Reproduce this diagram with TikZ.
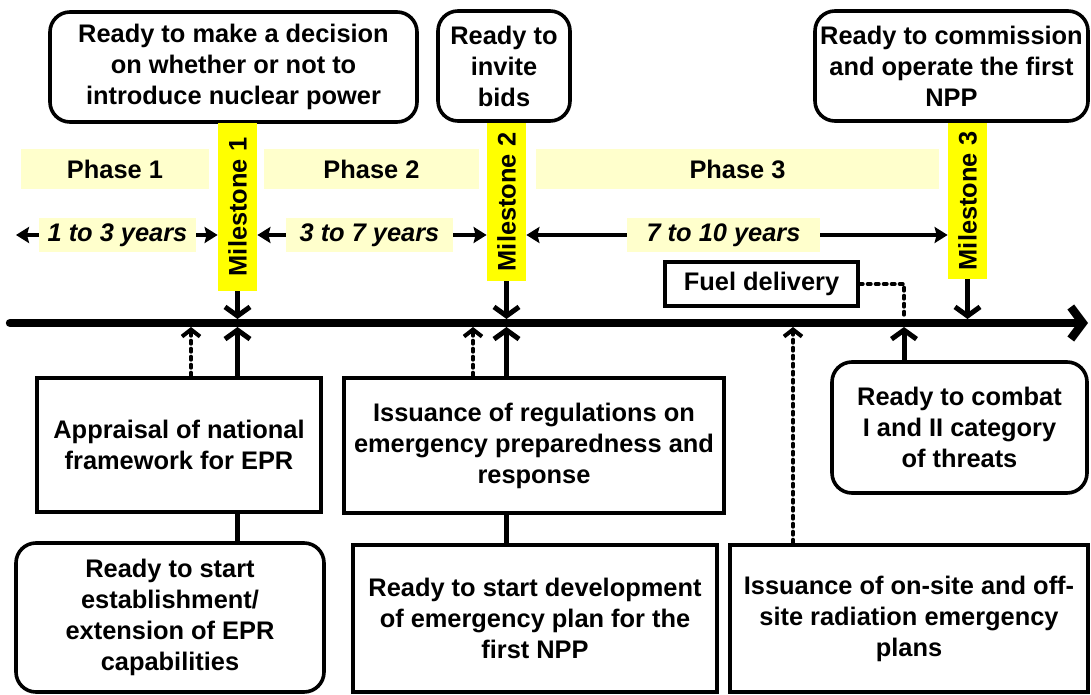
\documentclass[tikz,border=0pt]{standalone}
\usepackage{fontspec}
\setmainfont{Liberation Sans}
\usepackage{tikz}
\usetikzlibrary{arrows.meta}
\definecolor{phaseyellow}{RGB}{255, 255, 204}
\definecolor{mileyellow}{RGB}{255, 255, 0}

\begin{document}
\begin{tikzpicture}[x=0.5pt, y=-0.5pt,
  every node/.style={font=\fontsize{12.7}{15.5}\selectfont\bfseries, align=center, inner sep=0pt},
  goalbox/.style={draw, line width=1.8pt, rounded corners=10pt},
  taskbox/.style={draw, line width=2.3pt},
  phaseband/.style={fill=phaseyellow, minimum height=20pt},
  spanlabel/.style={fill=phaseyellow, font=\fontsize{12.7}{15.5}\selectfont\bfseries\itshape, minimum height=16.5pt},
  milebar/.style={fill=mileyellow, rotate=90, minimum height=19.5pt},
  spanarrow/.style={line width=1.7pt, -{Stealth[length=6.5pt,width=8pt,inset=1pt]}},
  hitarrow/.style={line width=2.5pt, shorten >=2pt, -{Straight Barb[length=4.5pt,width=12.5pt]}},
  linkline/.style={line width=2pt, line cap=round, dash pattern=on 1.5pt off 2.5pt},
  linkarrow/.style={linkline, shorten >=2pt, -{Straight Barb[length=3.5pt,width=9pt]}}]
\useasboundingbox (0,0) rectangle (1091,695);

\node[goalbox, minimum width=183.5pt, minimum height=55pt] (t1) at (233.5,67) {Ready to make a decision\\on whether or not to\\introduce nuclear power};
\node[goalbox, minimum width=66pt, minimum height=55pt] (t2) at (504,66) {Ready to\\invite\\bids};
\node[goalbox, minimum width=136.5pt, minimum height=55pt] (t3) at (951.5,66) {Ready to commission\\and operate the first\\NPP};

\node[phaseband, minimum width=94pt] (ph1) at (115,169) {Phase 1};
\node[phaseband, minimum width=107.5pt] (ph2) at (371.5,169) {Phase 2};
\node[phaseband, minimum width=201.5pt] (ph3) at (737.5,169) {Phase 3};

\node[milebar, minimum width=84pt] (m1) at (237.5,207) {Milestone 1};
\node[milebar, minimum width=79pt] (m2) at (506.5,202) {Milestone 2};
\node[milebar, minimum width=78pt] (m3) at (967.5,201) {Milestone 3};

\node[spanlabel, minimum width=78.5pt] (y1) at (117.5,235) {1 to 3 years};
\node[spanlabel, minimum width=83.5pt] (y2) at (369.5,235) {3 to 7 years};
\node[spanlabel, minimum width=96.5pt] (y3) at (723.5,235) {7 to 10 years};
\coordinate (span-start) at (16,235);
\draw[spanarrow] (y1.west) -- (span-start);
\draw[spanarrow] (y1.east) -- (m1.north |- y1);
\draw[spanarrow] (y2.west) -- (m1.south |- y2);
\draw[spanarrow] (y2.east) -- (m2.north |- y2);
\draw[spanarrow] (y3.west) -- (m2.south |- y3);
\draw[spanarrow] (y3.east) -- (m3.north |- y3);

\node[draw, line width=1.7pt, minimum width=96.5pt, minimum height=22pt] (fuel) at (761.5,284) {Fuel delivery};

\coordinate (tl-start) at (10,323);
\coordinate (tl-end) at (1088,323);
\coordinate (ms1) at (237.5,323);
\coordinate (ms2) at (506.5,323);
\coordinate (ms3) at (967.5,323);
\coordinate (dt1) at (191,323);
\coordinate (dt2) at (473,323);
\coordinate (dt3) at (793,323);
\coordinate (fl) at (904,323);
\draw[line width=4.2pt, line cap=round, -{Straight Barb[length=6pt,width=16pt]}] (tl-start) -- (tl-end);

\node[taskbox, minimum width=142pt, minimum height=67pt] (b1) at (179,445) {Appraisal of national\\framework for EPR};
\node[taskbox, minimum width=190pt, minimum height=67.5pt] (b2) at (534,445.5) {Issuance of regulations on\\emergency preparedness and\\response};
\node[goalbox, minimum width=127.5pt, minimum height=65.5pt] (r2) at (959.5,427.5) {Ready to combat\\I and II category\\of threats};
\node[goalbox, minimum width=154pt, minimum height=74.5pt] (r1) at (170,617.5) {Ready to start\\establishment/\\extension of EPR\\capabilities};
\node[taskbox, minimum width=182pt, minimum height=73.5pt] (b3) at (535,618.5) {Ready to start development\\of emergency plan for the\\first NPP};
\node[taskbox, minimum width=179pt, minimum height=73.5pt] (b4) at (909,618.5) {Issuance of on-site and off-\\site radiation emergency\\plans};

\draw[hitarrow] (m1.west) -- (ms1);
\draw[hitarrow] (m2.west) -- (ms2);
\draw[hitarrow] (m3.west) -- (ms3);
\draw[hitarrow] (b1.north -| ms1) -- (ms1);
\draw[hitarrow] (b2.north -| ms2) -- (ms2);
\draw[hitarrow] (r2.north -| fl) -- (fl);
\draw[linkarrow] (b1.north -| dt1) -- (dt1);
\draw[linkarrow] (b2.north -| dt2) -- (dt2);
\draw[linkarrow] (b4.north -| dt3) -- (dt3);
\draw[linkline, shorten >=2pt] (fuel.east) -| (fl);

\draw[line width=2.5pt] (b1.south -| ms1) -- (r1.north -| ms1);
\draw[line width=2.5pt] (b2.south -| ms2) -- (b3.north -| ms2);
\end{tikzpicture}
\end{document}
